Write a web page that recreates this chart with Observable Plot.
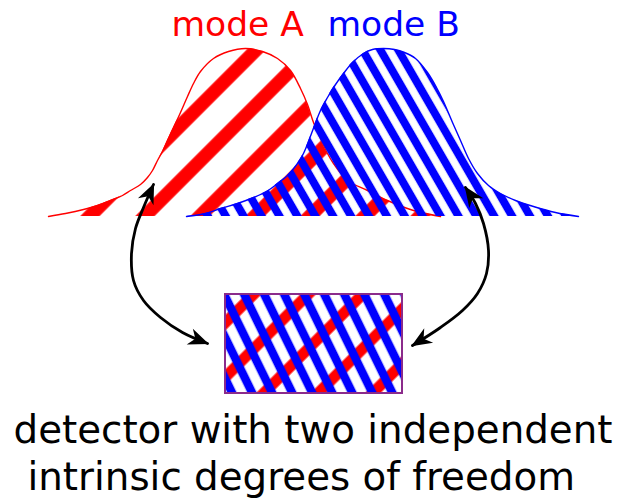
<!DOCTYPE html>
<html><head><meta charset="utf-8">
<script src="https://cdn.jsdelivr.net/npm/d3@7"></script>
<script src="https://cdn.jsdelivr.net/npm/@observablehq/plot@0.6"></script>
<style>body{margin:0;background:#fff} svg{display:block;background:#fff}</style>
</head><body><div id="chart"></div>
<script>
// ---- data (pixel-like diagram units) ----
const baseline = 216;
const modeA = [[48,216],[65,213],[83,209],[97,205],[110,200],[122,195],[130,190],[140,184],[147,177],[152,170],[157,160],[162,151],[167,140],[174,125],[180,112],[187,96],[193,83],[200,71],[213,58],[228,51],[245,48],[262,51],[277,58],[290,70],[300,88],[307,104],[313,122],[320,138],[327,153],[333,163],[347,180],[367,190],[387,200],[413,210],[440,216]];
const modeB = [[186,216],[205,213],[220,208],[237,203],[253,197],[266,191],[277,183],[288,174],[297,163],[303,153],[308,141],[314,125],[320,110],[327,97],[333,87],[343,73],[352,62],[363,53],[372,49],[383,48],[394,49],[404,52],[415,58],[427,72],[436,87],[443,101],[452,122],[460,140],[468,158],[477,173],[488,185],[500,193],[515,200],[533,206],[555,212],[578,216]];
const detector = [{x1:225, x2:402, y1:294, y2:393}];
const arrowLeft = [[153,184],[143,207],[135,228],[131,253],[133,280],[143,300],[160,317],[182,332],[207,343]];
const arrowRight = [[465,187],[475,203],[483,223],[488,250],[486,273],[477,293],[462,310],[440,327],[412,345]];
const modeLabels = ["mode A", "mode B"];
const modeColors = ["#ff0000", "#0000ff"];
const captionLines = ["detector with two independent", "intrinsic degrees of freedom"];

const toXY = a => a.map(([x, y]) => ({x, y}));
const A = toXY(modeA), B = toXY(modeB);
const arrows = [...toXY(arrowLeft).map(d => ({...d, id: "L"})), ...toXY(arrowRight).map(d => ({...d, id: "R"}))];
const labels = [
  {x: 171, y: 35, text: modeLabels[0], c: modeColors[0]},
  {x: 327, y: 35, text: modeLabels[1], c: modeColors[1]}
];
const caption = [
  {x: 13, y: 442, text: captionLines[0]},
  {x: 27, y: 489, text: captionLines[1]}
];

const font = "DejaVu Sans, Verdana, sans-serif";

const svg = Plot.plot({
  width: 621, height: 498, margin: 0,
  x: {domain: [0, 621], range: [0, 621], axis: null},
  y: {domain: [0, 498], range: [0, 498], axis: null},
  style: {fontFamily: font, background: "#fff"},
  marks: [
    Plot.areaY(A, {x: "x", y1: baseline, y2: "y", curve: "catmull-rom", fill: "url(#hatchA)"}),
    Plot.line(A, {x: "x", y: "y", curve: "catmull-rom", stroke: modeColors[0], strokeWidth: 1.4}),
    Plot.areaY(B, {x: "x", y1: baseline, y2: "y", curve: "catmull-rom", fill: "url(#hatchB)"}),
    Plot.line(B, {x: "x", y: "y", curve: "catmull-rom", stroke: modeColors[1], strokeWidth: 1.4}),
    Plot.rect(detector, {x1: "x1", x2: "x2", y1: "y1", y2: "y2", fill: "#fff"}),
    Plot.rect(detector, {x1: "x1", x2: "x2", y1: "y1", y2: "y2", fill: "url(#boxRed)"}),
    Plot.rect(detector, {x1: "x1", x2: "x2", y1: "y1", y2: "y2", fill: "url(#boxBlue)", stroke: "#8b2b8b", strokeWidth: 2}),
    Plot.line(arrows, {x: "x", y: "y", z: "id", curve: "catmull-rom", stroke: "#000000", strokeWidth: 2.8}),
    Plot.text(labels, {x: "x", y: "y", text: "text", fill: "c", textAnchor: "start", lineAnchor: "bottom", fontSize: 34.5, fontFamily: font}),
    Plot.text(caption, {x: "x", y: "y", text: "text", fill: "#000", textAnchor: "start", lineAnchor: "bottom", fontSize: 38.8, fontFamily: font})
  ]
});

function hatch(id, color, period, w, angle, tx, ty) {
  const h = w / 2;
  return `<pattern id="${id}" patternUnits="userSpaceOnUse" width="${period}" height="200" patternTransform="translate(${tx},${ty}) rotate(${angle})">
    <rect x="0" y="0" width="${h}" height="200" fill="${color}"/>
    <rect x="${period - h}" y="0" width="${h}" height="200" fill="${color}"/></pattern>`;
}
const defs = document.createElementNS("http://www.w3.org/2000/svg", "defs");
defs.innerHTML =
  hatch("hatchA", "#ff0000", 38.9, 13.5, 45, 90, 216) +
  hatch("hatchB", "#0000ff", 15.5, 8, -30, 325, 140) +
  hatch("boxRed", "#ff0000", 38.5, 11, 45, 225, 323) +
  hatch("boxBlue", "#0000ff", 18, 8.5, -26, 244, 294) +
  `<marker id="barb" viewBox="-22 -11 24 22" markerWidth="24" markerHeight="22" refX="0" refY="0" orient="auto-start-reverse" markerUnits="userSpaceOnUse">
     <path d="M1.5,0 L-19,-8.5 L-13,0 L-19,8.5 Z" fill="#000"/></marker>`;
svg.insertBefore(defs, svg.firstChild);
svg.querySelectorAll('g[aria-label="line"]').forEach(g => {
  const s = (g.getAttribute("stroke") || "").toLowerCase();
  if (s === "#000000" || s === "black") {
    g.querySelectorAll("path").forEach(p => {
      p.setAttribute("marker-start", "url(#barb)");
      p.setAttribute("marker-end", "url(#barb)");
    });
  }
});
document.getElementById("chart").appendChild(svg);
</script>
</body></html>
